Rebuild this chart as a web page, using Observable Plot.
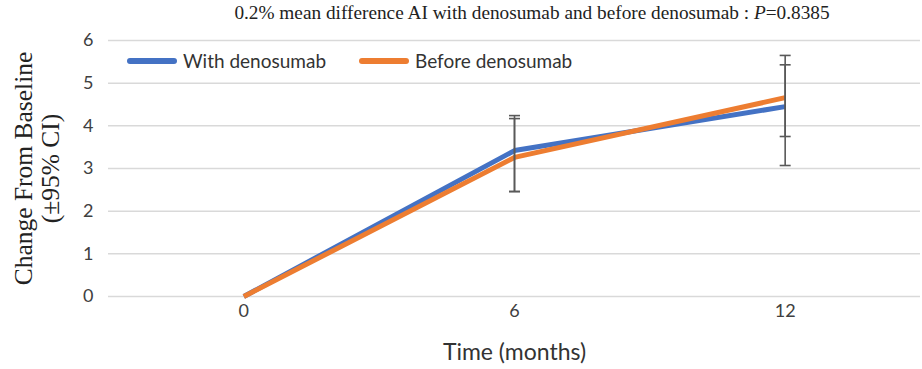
<!DOCTYPE html>
<html>
<head>
<meta charset="utf-8">
<script src="https://cdn.jsdelivr.net/npm/d3@7"></script>
<script src="https://cdn.jsdelivr.net/npm/@observablehq/plot@0.6"></script>
<style>
  html, body { margin: 0; padding: 0; background: #fff; }
  #wrap { position: relative; width: 922px; height: 369px; overflow: hidden; }
  #title { position: absolute; left: 0; width: 1064px; top: 2px; text-align: center;
           font-family: "Liberation Serif", serif; font-size: 19.3px; color: #222; white-space: nowrap; }
  #legend { position: absolute; left: 127px; top: 49px; font-family: Lato, sans-serif; font-size: 19px; color: #333;
            display: flex; align-items: center; }
  .item { display: flex; align-items: center; margin-right: 33px; }
  .sw { width: 50px; height: 6px; border-radius: 3px; margin-right: 6px; }
</style>
</head>
<body>
<div id="wrap">
  <div id="chart"></div>
  <div id="title">0.2% mean difference AI with denosumab and before denosumab : <i>P</i>=0.8385</div>
  <div id="legend"></div>
</div>
<script>
const months = [0, 6, 12];
const seriesNames = ["With denosumab", "Before denosumab"];
const seriesColors = ["#4472C4", "#ED7D31"];
const withDenosumab = [0, 3.42, 4.45];
const beforeDenosumab = [0, 3.26, 4.66];
const withLow = [null, 2.46, 3.07];
const withHigh = [null, 4.24, 5.43];
const beforeLow = [null, 2.46, 3.75];
const beforeHigh = [null, 4.17, 5.65];
const yTicks = [0, 1, 2, 3, 4, 5, 6];
const xLabel = "Time (months)";
const yLabel = "Change From Baseline\n(±95% CI)";

const data = [];
months.forEach((m, i) => {
  data.push({month: m, series: seriesNames[0], value: withDenosumab[i], lo: withLow[i], hi: withHigh[i]});
});
months.forEach((m, i) => {
  data.push({month: m, series: seriesNames[1], value: beforeDenosumab[i], lo: beforeLow[i], hi: beforeHigh[i]});
});
const errs = data.filter(d => d.lo != null);

const capSymbol = {
  draw(context, size) {
    const w = 5.5;
    context.moveTo(-w, 0);
    context.lineTo(w, 0);
  }
};

const chart = Plot.plot({
  width: 922,
  height: 369,
  marginTop: 40,
  marginBottom: 73,
  marginLeft: 108,
  marginRight: 2,
  style: {fontFamily: "Lato, sans-serif", fontSize: "18px", color: "#404040", background: "#fff"},
  x: {domain: [-3, 15], ticks: months, tickSize: 0, label: null},
  y: {domain: [0, 6], ticks: yTicks, tickSize: 0, label: null},
  color: {domain: seriesNames, range: seriesColors},
  marks: [
    Plot.gridY(yTicks, {stroke: "#d9d9d9", strokeOpacity: 1, strokeWidth: 1.5}),
    Plot.axisX({ticks: months, tickSize: 0, tickPadding: 8, fontSize: 18, fill: "#404040", tickFormat: d => String(d)}),
    Plot.axisY({ticks: yTicks, tickSize: 0, tickPadding: 15, fontSize: 18, fill: "#404040", tickFormat: d => String(d)}),
    Plot.line(data, {x: "month", y: "value", z: "series", stroke: "series", strokeWidth: 5, strokeLinejoin: "round", strokeLinecap: "butt"}),
    Plot.ruleX(errs, {x: "month", y1: "lo", y2: "hi", stroke: "#595959", strokeWidth: 1.6}),
    Plot.dot(errs, {x: "month", y: "lo", symbol: capSymbol, stroke: "#595959", strokeWidth: 1.6, fill: "none", r: 3}),
    Plot.dot(errs, {x: "month", y: "hi", symbol: capSymbol, stroke: "#595959", strokeWidth: 1.6, fill: "none", r: 3}),
    Plot.text([xLabel], {frameAnchor: "bottom", dy: 63, fontSize: 23, fill: "#333", fontFamily: "Lato, sans-serif"}),
    Plot.text([yLabel], {frameAnchor: "left", textAnchor: "middle", lineAnchor: "middle", dx: -72, rotate: -90, fontSize: 25.5, lineHeight: 1.06, fill: "#222", fontFamily: "Liberation Serif, serif"})
  ]
});
document.getElementById("chart").appendChild(chart);

const legend = document.getElementById("legend");
seriesNames.forEach((name, i) => {
  const item = document.createElement("div");
  item.className = "item";
  const sw = document.createElement("div");
  sw.className = "sw";
  sw.style.background = seriesColors[i];
  const label = document.createElement("span");
  label.textContent = name;
  item.appendChild(sw);
  item.appendChild(label);
  legend.appendChild(item);
});
</script>
</body>
</html>
